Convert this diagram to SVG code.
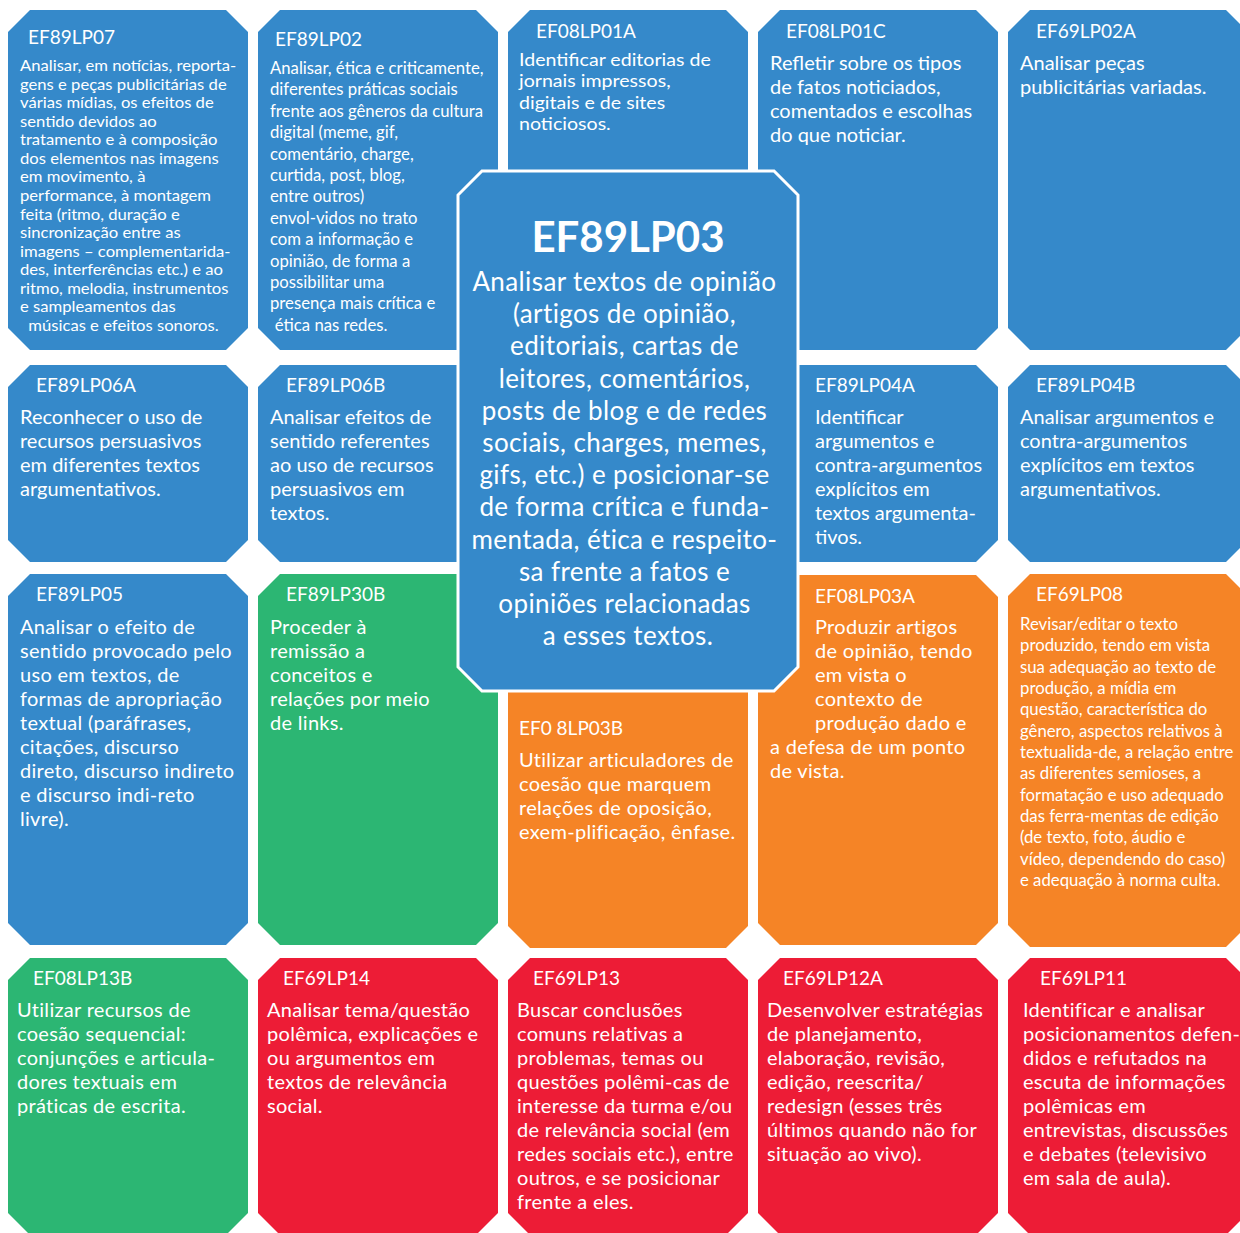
<svg xmlns="http://www.w3.org/2000/svg" width="1240" height="1233" viewBox="0 0 1240 1233">
<style>
.blue{fill:#3589CA}
.green{fill:#2CB673}
.orange{fill:#F58426}
.red{fill:#ED1C36}
.t{font-family:Lato,"Noto Sans",sans-serif;fill:#fff}
.h{font-size:19px}
.b{font-size:20px}
.w{letter-spacing:0.3px}
.c1{font-size:16px}
.c2{font-size:17.5px}
.ct{font-size:42px;font-weight:bold;text-anchor:middle}
.cb{font-size:26px;letter-spacing:0.4px;text-anchor:middle}
</style>
<rect width="1240" height="1233" fill="#fff"/>
<g id="connectors"/>

<g id="EF89LP07">
<polygon class="blue" points="30,10 226,10 248,32 248,328 226,350 30,350 8,328 8,32"/>
<text class="t h" x="28" y="44">EF89LP07</text>
<g transform="matrix(1.04,0,0,1,-0.8,0)">
<text class="t c1" y="71">
<tspan x="20">Analisar, em notícias, reporta-</tspan>
<tspan x="20" dy="18.57">gens e peças publicitárias de</tspan>
<tspan x="20" dy="18.57">várias mídias, os efeitos de</tspan>
<tspan x="20" dy="18.57">sentido devidos ao</tspan>
<tspan x="20" dy="18.57">tratamento e à composição</tspan>
<tspan x="20" dy="18.57">dos elementos nas imagens</tspan>
<tspan x="20" dy="18.57">em movimento, à</tspan>
<tspan x="20" dy="18.57">performance, à montagem</tspan>
<tspan x="20" dy="18.57">feita (ritmo, duração e</tspan>
<tspan x="20" dy="18.57">sincronização entre as</tspan>
<tspan x="20" dy="18.57">imagens – complementarida-</tspan>
<tspan x="20" dy="18.57">des, interferências etc.) e ao</tspan>
<tspan x="20" dy="18.57">ritmo, melodia, instrumentos</tspan>
<tspan x="20" dy="18.57">e sampleamentos das</tspan>
<tspan x="28" dy="18.57">músicas e efeitos sonoros.</tspan>
</text>
</g>
</g>

<g id="EF89LP02">
<polygon class="blue" points="280,10 476,10 498,32 498,328 476,350 280,350 258,328 258,32"/>
<text class="t h" x="275" y="46">EF89LP02</text>
<g transform="matrix(0.955,0,0,1,12.15,0)">
<text class="t c2" y="74">
<tspan x="270">Analisar, ética e criticamente,</tspan>
<tspan x="270" dy="21.4">diferentes práticas sociais</tspan>
<tspan x="270" dy="21.4">frente aos gêneros da cultura</tspan>
<tspan x="270" dy="21.4">digital (meme, gif,</tspan>
<tspan x="270" dy="21.4">comentário, charge,</tspan>
<tspan x="270" dy="21.4">curtida, post, blog,</tspan>
<tspan x="270" dy="21.4">entre outros)</tspan>
<tspan x="270" dy="21.4">envol-vidos no trato</tspan>
<tspan x="270" dy="21.4">com a informação e</tspan>
<tspan x="270" dy="21.4">opinião, de forma a</tspan>
<tspan x="270" dy="21.4">possibilitar uma</tspan>
<tspan x="270" dy="21.4">presença mais crítica e</tspan>
<tspan x="275" dy="21.4">ética nas redes.</tspan>
</text>
</g>
</g>

<g id="EF08LP01A">
<polygon class="blue" points="530,10 726,10 748,32 748,328 726,350 530,350 508,328 508,32"/>
<text class="t h" x="536" y="38">EF08LP01A</text>
<g transform="matrix(1.12,0,0,1,-62.28,0)">
<text class="t c2" y="66">
<tspan x="519">Identificar editorias de</tspan>
<tspan x="519" dy="21.3">jornais impressos,</tspan>
<tspan x="519" dy="21.3">digitais e de sites</tspan>
<tspan x="519" dy="21.3">noticiosos.</tspan>
</text>
</g>
</g>

<g id="EF08LP01C">
<polygon class="blue" points="780,10 976,10 998,32 998,328 976,350 780,350 758,328 758,32"/>
<text class="t h" x="786" y="38">EF08LP01C</text>
<text class="t b" y="70">
<tspan x="770">Refletir sobre os tipos</tspan>
<tspan x="770" dy="24">de fatos noticiados,</tspan>
<tspan x="770" dy="24">comentados e escolhas</tspan>
<tspan x="770" dy="24">do que noticiar.</tspan>
</text>
</g>

<g id="EF69LP02A">
<polygon class="blue" points="1030,10 1226,10 1248,32 1248,328 1226,350 1030,350 1008,328 1008,32"/>
<text class="t h" x="1036" y="38">EF69LP02A</text>
<text class="t b" y="70">
<tspan x="1020">Analisar peças</tspan>
<tspan x="1020" dy="24">publicitárias variadas.</tspan>
</text>
</g>

<g id="EF89LP06A">
<polygon class="blue" points="30,365 226,365 248,387 248,540 226,562 30,562 8,540 8,387"/>
<text class="t h" x="36" y="392">EF89LP06A</text>
<text class="t b" y="424">
<tspan x="20">Reconhecer o uso de</tspan>
<tspan x="20" dy="24">recursos persuasivos</tspan>
<tspan x="20" dy="24">em diferentes textos</tspan>
<tspan x="20" dy="24">argumentativos.</tspan>
</text>
</g>

<g id="EF89LP06B">
<polygon class="blue" points="280,365 476,365 498,387 498,540 476,562 280,562 258,540 258,387"/>
<text class="t h" x="286" y="392">EF89LP06B</text>
<text class="t b" y="424">
<tspan x="270">Analisar efeitos de</tspan>
<tspan x="270" dy="24">sentido referentes</tspan>
<tspan x="270" dy="24">ao uso de recursos</tspan>
<tspan x="270" dy="24">persuasivos em</tspan>
<tspan x="270" dy="24">textos.</tspan>
</text>
</g>

<g id="EF89LP04A">
<polygon class="blue" points="780,365 976,365 998,387 998,540 976,562 780,562 758,540 758,387"/>
<text class="t h" x="815" y="392">EF89LP04A</text>
<text class="t b" y="424">
<tspan x="815">Identificar</tspan>
<tspan x="815" dy="24">argumentos e</tspan>
<tspan x="815" dy="24">contra-argumentos</tspan>
<tspan x="815" dy="24">explícitos em</tspan>
<tspan x="815" dy="24">textos argumenta-</tspan>
<tspan x="815" dy="24">tivos.</tspan>
</text>
</g>

<g id="EF89LP04B">
<polygon class="blue" points="1030,365 1226,365 1248,387 1248,540 1226,562 1030,562 1008,540 1008,387"/>
<text class="t h" x="1036" y="392">EF89LP04B</text>
<text class="t b" y="424">
<tspan x="1020">Analisar argumentos e</tspan>
<tspan x="1020" dy="24">contra-argumentos</tspan>
<tspan x="1020" dy="24">explícitos em textos</tspan>
<tspan x="1020" dy="24">argumentativos.</tspan>
</text>
</g>

<g id="EF89LP05">
<polygon class="blue" points="30,574 226,574 248,596 248,923 226,945 30,945 8,923 8,596"/>
<text class="t h" x="36" y="601">EF89LP05</text>
<text class="t b w" y="634">
<tspan x="20">Analisar o efeito de</tspan>
<tspan x="20" dy="24">sentido provocado pelo</tspan>
<tspan x="20" dy="24">uso em textos, de</tspan>
<tspan x="20" dy="24">formas de apropriação</tspan>
<tspan x="20" dy="24">textual (paráfrases,</tspan>
<tspan x="20" dy="24">citações, discurso</tspan>
<tspan x="20" dy="24">direto, discurso indireto</tspan>
<tspan x="20" dy="24">e discurso indi-reto</tspan>
<tspan x="20" dy="24">livre).</tspan>
</text>
</g>

<g id="EF89LP30B">
<polygon class="green" points="280,574 476,574 498,596 498,923 476,945 280,945 258,923 258,596"/>
<text class="t h" x="286" y="601">EF89LP30B</text>
<text class="t b w" y="634">
<tspan x="270">Proceder à</tspan>
<tspan x="270" dy="24">remissão a</tspan>
<tspan x="270" dy="24">conceitos e</tspan>
<tspan x="270" dy="24">relações por meio</tspan>
<tspan x="270" dy="24">de links.</tspan>
</text>
</g>

<g id="EF08LP03B">
<polygon class="orange" points="530,574 726,574 748,596 748,926 726,948 530,948 508,926 508,596"/>
<text class="t h" x="519" y="735">EF0 8LP03B</text>
<text class="t b w" y="767">
<tspan x="519">Utilizar articuladores de</tspan>
<tspan x="519" dy="24">coesão que marquem</tspan>
<tspan x="519" dy="24">relações de oposição,</tspan>
<tspan x="519" dy="24">exem-plificação, ênfase.</tspan>
</text>
</g>

<g id="EF08LP03A">
<polygon class="orange" points="780,575 976,575 998,597 998,923 976,945 780,945 758,923 758,597"/>
<text class="t h" x="815" y="603">EF08LP03A</text>
<text class="t b w" y="634">
<tspan x="815">Produzir artigos</tspan>
<tspan x="815" dy="24">de opinião, tendo</tspan>
<tspan x="815" dy="24">em vista o</tspan>
<tspan x="815" dy="24">contexto de</tspan>
<tspan x="815" dy="24">produção dado e</tspan>
<tspan x="770" dy="24">a defesa de um ponto</tspan>
<tspan x="770" dy="24">de vista.</tspan>
</text>
</g>

<g id="EF69LP08">
<polygon class="orange" points="1030,574 1226,574 1248,596 1248,925 1226,947 1030,947 1008,925 1008,596"/>
<text class="t h" x="1036" y="601">EF69LP08</text>
<g transform="matrix(0.958,0,0,1,42.84,0)">
<text class="t c2" y="630">
<tspan x="1020">Revisar/editar o texto</tspan>
<tspan x="1020" dy="21.33">produzido, tendo em vista</tspan>
<tspan x="1020" dy="21.33">sua adequação ao texto de</tspan>
<tspan x="1020" dy="21.33">produção, a mídia em</tspan>
<tspan x="1020" dy="21.33">questão, característica do</tspan>
<tspan x="1020" dy="21.33">gênero, aspectos relativos à</tspan>
<tspan x="1020" dy="21.33">textualida-de, a relação entre</tspan>
<tspan x="1020" dy="21.33">as diferentes semioses, a</tspan>
<tspan x="1020" dy="21.33">formatação e uso adequado</tspan>
<tspan x="1020" dy="21.33">das ferra-mentas de edição</tspan>
<tspan x="1020" dy="21.33">(de texto, foto, áudio e</tspan>
<tspan x="1020" dy="21.33">vídeo, dependendo do caso)</tspan>
<tspan x="1020" dy="21.33">e adequação à norma culta.</tspan>
</text>
</g>
</g>

<g id="EF08LP13B">
<polygon class="green" points="30,958 226,958 248,980 248,1213 223,1238 33,1238 8,1213 8,980"/>
<text class="t h" x="33" y="985">EF08LP13B</text>
<text class="t b w" y="1017">
<tspan x="17">Utilizar recursos de</tspan>
<tspan x="17" dy="24">coesão sequencial:</tspan>
<tspan x="17" dy="24">conjunções e articula-</tspan>
<tspan x="17" dy="24">dores textuais em</tspan>
<tspan x="17" dy="24">práticas de escrita.</tspan>
</text>
</g>

<g id="EF69LP14">
<polygon class="red" points="280,958 476,958 498,980 498,1213 473,1238 283,1238 258,1213 258,980"/>
<text class="t h" x="283" y="985">EF69LP14</text>
<text class="t b w" y="1017">
<tspan x="267">Analisar tema/questão</tspan>
<tspan x="267" dy="24">polêmica, explicações e</tspan>
<tspan x="267" dy="24">ou argumentos em</tspan>
<tspan x="267" dy="24">textos de relevância</tspan>
<tspan x="267" dy="24">social.</tspan>
</text>
</g>

<g id="EF69LP13">
<polygon class="red" points="530,958 726,958 748,980 748,1213 723,1238 533,1238 508,1213 508,980"/>
<text class="t h" x="533" y="985">EF69LP13</text>
<text class="t b w" y="1017">
<tspan x="517">Buscar conclusões</tspan>
<tspan x="517" dy="24">comuns relativas a</tspan>
<tspan x="517" dy="24">problemas, temas ou</tspan>
<tspan x="517" dy="24">questões polêmi-cas de</tspan>
<tspan x="517" dy="24">interesse da turma e/ou</tspan>
<tspan x="517" dy="24">de relevância social (em</tspan>
<tspan x="517" dy="24">redes sociais etc.), entre</tspan>
<tspan x="517" dy="24">outros, e se posicionar</tspan>
<tspan x="517" dy="24">frente a eles.</tspan>
</text>
</g>

<g id="EF69LP12A">
<polygon class="red" points="780,958 976,958 998,980 998,1213 973,1238 783,1238 758,1213 758,980"/>
<text class="t h" x="783" y="985">EF69LP12A</text>
<text class="t b w" y="1017">
<tspan x="767">Desenvolver estratégias</tspan>
<tspan x="767" dy="24">de planejamento,</tspan>
<tspan x="767" dy="24">elaboração, revisão,</tspan>
<tspan x="767" dy="24">edição, reescrita/</tspan>
<tspan x="767" dy="24">redesign (esses três</tspan>
<tspan x="767" dy="24">últimos quando não for</tspan>
<tspan x="767" dy="24">situação ao vivo).</tspan>
</text>
</g>

<g id="EF69LP11">
<polygon class="red" points="1030,958 1226,958 1248,980 1248,1213 1223,1238 1033,1238 1008,1213 1008,980"/>
<text class="t h" x="1040" y="985">EF69LP11</text>
<text class="t b w" y="1017">
<tspan x="1023">Identificar e analisar</tspan>
<tspan x="1023" dy="24">posicionamentos defen-</tspan>
<tspan x="1023" dy="24">didos e refutados na</tspan>
<tspan x="1023" dy="24">escuta de informações</tspan>
<tspan x="1023" dy="24">polêmicas em</tspan>
<tspan x="1023" dy="24">entrevistas, discussões</tspan>
<tspan x="1023" dy="24">e debates (televisivo</tspan>
<tspan x="1023" dy="24">em sala de aula).</tspan>
</text>
</g>

<g id="EF89LP03">
<polygon class="blue" points="482,171 774,171 798,195 798,667 774,691 482,691 458,667 458,195" stroke="#fff" stroke-width="3"/>
<text class="t ct" x="628" y="252">EF89LP03</text>
<text class="t cb" y="291">
<tspan x="628">Analisar textos de opinião</tspan>
<tspan x="628" dy="32.2">(artigos de opinião,</tspan>
<tspan x="628" dy="32.2">editoriais, cartas de</tspan>
<tspan x="628" dy="32.2">leitores, comentários,</tspan>
<tspan x="628" dy="32.2">posts de blog e de redes</tspan>
<tspan x="628" dy="32.2">sociais, charges, memes,</tspan>
<tspan x="628" dy="32.2">gifs, etc.) e posicionar-se</tspan>
<tspan x="628" dy="32.2">de forma crítica e funda-</tspan>
<tspan x="628" dy="32.2">mentada, ética e respeito-</tspan>
<tspan x="628" dy="32.2">sa frente a fatos e</tspan>
<tspan x="628" dy="32.2">opiniões relacionadas</tspan>
<tspan x="628" dy="32.2">a esses textos.</tspan>
</text>
</g>
</svg>
